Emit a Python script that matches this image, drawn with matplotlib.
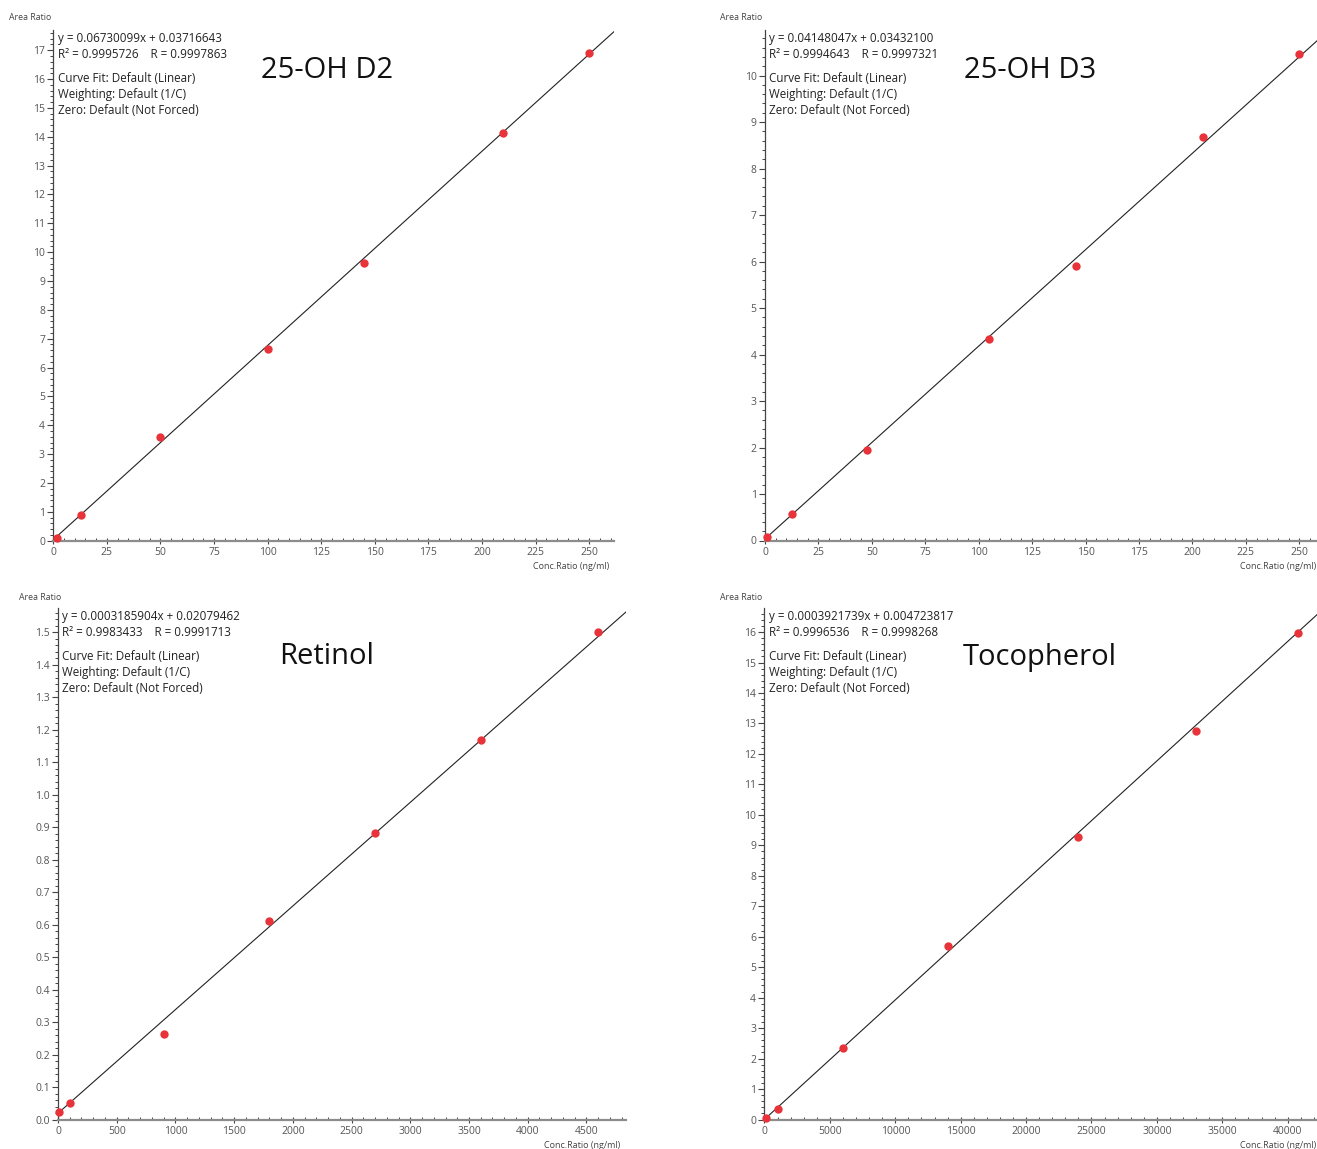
import matplotlib
matplotlib.use("Agg")
import matplotlib.pyplot as plt
import numpy as np
from matplotlib.ticker import MultipleLocator, FormatStrFormatter

plt.rcParams['font.family'] = ['Open Sans', 'DejaVu Sans']

W, H = 1317, 1149

# ---- data ----
titles = ["25-OH D2", "25-OH D3", "Retinol", "Tocopherol"]

d2_x = [1.5, 13, 50, 100, 145, 210, 250]
d2_y = [0.08, 0.88, 3.58, 6.63, 9.62, 14.13, 16.91]

d3_x = [1, 12.6, 47.8, 105, 145.6, 205, 250]
d3_y = [0.065, 0.58, 1.94, 4.34, 5.91, 8.67, 10.47]

ret_x = [10, 100, 900, 1800, 2700, 3600, 4600]
ret_y = [0.024, 0.052, 0.264, 0.612, 0.882, 1.168, 1.50]

toc_x = [100, 1000, 6000, 14000, 24000, 33000, 40800]
toc_y = [0.04, 0.35, 2.34, 5.69, 9.26, 12.76, 15.98]

slopes = [0.06730099, 0.04148047, 0.0003185904, 0.0003921739]
intercepts = [0.03716643, 0.03432100, 0.02079462, 0.004723817]

eq_text = ["y = 0.06730099x + 0.03716643",
           "y = 0.04148047x + 0.03432100",
           "y = 0.0003185904x + 0.02079462",
           "y = 0.0003921739x + 0.004723817"]
r_text = ["R\u00b2 = 0.9995726    R = 0.9997863",
          "R\u00b2 = 0.9994643    R = 0.9997321",
          "R\u00b2 = 0.9983433    R = 0.9991713",
          "R\u00b2 = 0.9996536    R = 0.9998268"]
fit_lines = ["Curve Fit: Default (Linear)",
             "Weighting: Default (1/C)",
             "Zero: Default (Not Forced)"]

xs = [d2_x, d3_x, ret_x, toc_x]
ys = [d2_y, d3_y, ret_y, toc_y]

# ---- layout (pixels) ----
boxes = [(53.3, 614, 30, 540.7),
         (765, 1325, 30, 540.5),
         (58, 626, 608, 1120),
         (764.5, 1323, 608, 1119.5)]
xlims = [(0, 261.6), (0, 262), (0, 4837), (0, 42700)]
ylims = [(0, 17.7), (0, 10.98), (0, 1.574), (0, 16.79)]
xmaj = [25, 25, 500, 5000]
xmin_ = [5, 5, 100, 1000]
ymaj = [1, 1, 0.1, 1]
ymin_ = [0.2, 0.2, 0.02, 0.2]
yfmt = ['%d', '%d', '%.1f', '%d']
title_pos = [(327, 70), (1030, 70), (327, 657), (1040, 657)]
text_left = [58, 769, 62, 769]
area_lbl = [(30, 17), (741, 17), (40, 597), (741, 597)]
conc_right = [609, 1316, 620, 1316]

fig = plt.figure(figsize=(W / 100, H / 100), dpi=100)

def fx(px):
    return px / W

def fy(py):
    return 1 - py / H

for i in range(4):
    l, r, t, b = boxes[i]
    ax = fig.add_axes([fx(l), fy(b), (r - l) / W, (b - t) / H])
    ax.set_xlim(*xlims[i])
    ax.set_ylim(*ylims[i])
    for s in ['top', 'right']:
        ax.spines[s].set_visible(False)
    ax.spines['bottom'].set_color('#8c8c8c')
    ax.spines['bottom'].set_linewidth(1.6)
    ax.spines['left'].set_color('#444444')
    ax.spines['left'].set_linewidth(0.9)
    ax.xaxis.set_major_locator(MultipleLocator(xmaj[i]))
    ax.xaxis.set_minor_locator(MultipleLocator(xmin_[i]))
    ax.yaxis.set_major_locator(MultipleLocator(ymaj[i]))
    ax.yaxis.set_minor_locator(MultipleLocator(ymin_[i]))
    ax.yaxis.set_major_formatter(FormatStrFormatter(yfmt[i]))
    ax.tick_params(axis='both', which='major', labelsize=7.5, labelcolor='#555555',
                   color='#444444', length=4, width=0.8, pad=2)
    ax.tick_params(axis='both', which='minor', color='#444444', length=2, width=0.7)
    ax.tick_params(axis='x', which='major', direction='inout', length=5)
    ax.tick_params(axis='x', which='minor', direction='in', length=2.5)

    # fit line
    xl = np.array(xlims[i])
    ax.plot(xl, slopes[i] * xl + intercepts[i], color='#222222', lw=0.8, zorder=2)
    # points
    ax.plot(xs[i], ys[i], 'o', color='#e8333a', markersize=6, markeredgewidth=0,
            zorder=3, clip_on=False)

    # texts
    tl = text_left[i]
    ty0 = t + 8.5
    fs = 8.4
    fig.text(fx(tl), fy(ty0), eq_text[i], fontsize=fs, color='#222222', va='center', ha='left')
    fig.text(fx(tl), fy(ty0 + 16), r_text[i], fontsize=fs, color='#222222', va='center', ha='left')
    for k, line in enumerate(fit_lines):
        fig.text(fx(tl), fy(ty0 + 40 + 16 * k), line, fontsize=fs, color='#222222',
                 va='center', ha='left')
    tx, tyy = title_pos[i]
    fig.text(fx(tx), fy(tyy), titles[i], fontsize=21, color='#111111', ha='center', va='center')
    ax_, ay_ = area_lbl[i]
    fig.text(fx(ax_), fy(ay_), "Area Ratio", fontsize=6.3, color='#444444', ha='center', va='center')
    fig.text(fx(conc_right[i]), fy(b + 26), "Conc.Ratio (ng/ml)", fontsize=6.5, color='#444444',
             ha='right', va='center')

fig.savefig("out.png", dpi=100)
